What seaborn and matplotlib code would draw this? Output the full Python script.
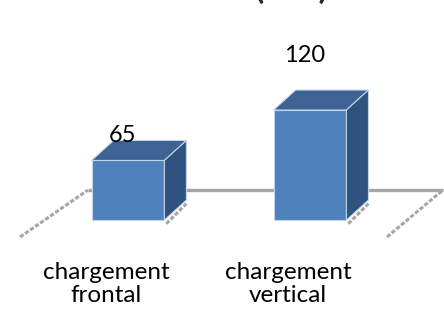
import pandas as pd
import seaborn as sns
import matplotlib.pyplot as plt
from matplotlib.patches import Polygon

categories = ["chargement\nfrontal", "chargement\nvertical"]
values = [65, 120]
title_text = "(min)"

front = "#4F81BD"
top_col = "#3D6394"
side_col = "#30527F"
edge = "#C6D4E8"
floor_col = "#A6A6A6"

df = pd.DataFrame({"cat": categories, "val": values})

sns.set_style("white")
plt.rcParams["font.family"] = ["Lato", "DejaVu Sans"]

fig = plt.figure(figsize=(4.44, 3.12), dpi=100)
ax = fig.add_axes([0, 0, 1, 1])
sns.barplot(data=df, x="cat", y="val", ax=ax, color=front, saturation=1,
            width=0.4, edgecolor=edge, linewidth=0.8, zorder=3)

# 3d depth offset (x in category units, y in value units)
dx, dy = 0.121, 21.8

for p in ax.patches:
    x0, w, h = p.get_x(), p.get_width(), p.get_height()
    ax.add_patch(Polygon([(x0, h), (x0 + w, h), (x0 + w + dx, h + dy), (x0 + dx, h + dy)],
                         closed=True, fc=top_col, ec=edge, lw=0.8, zorder=3))
    ax.add_patch(Polygon([(x0 + w, 0), (x0 + w, h), (x0 + w + dx, h + dy), (x0 + w + dx, dy)],
                         closed=True, fc=side_col, ec=edge, lw=0.8, zorder=3))
    ax.plot([x0 + w + 0.01, x0 + w + dx], [-4, dy - 4], color=floor_col, lw=2.2,
            ls=(0, (1.4, 0.6)), zorder=3.5)

# floor of the 3d chart
n = len(categories)
back_y, front_y = 32.7, -18.5
bl, br = -0.22, n - 1 + 0.73
fl, fr = -0.593, n - 1 + 0.423
ax.plot([bl, br], [back_y, back_y], color=floor_col, lw=2.4, zorder=1, solid_capstyle="butt")
ax.plot([fl, bl], [front_y, back_y], color=floor_col, lw=2.2, ls=(0, (1.4, 0.6)), zorder=1)
ax.plot([fr, br], [front_y, back_y], color=floor_col, lw=2.2, ls=(0, (1.4, 0.6)), zorder=1)

for i, v in enumerate(values):
    ax.text(i - 0.03, v * 1.6 - 12, str(v), ha="center", va="center", fontsize=17,
            color="black", zorder=5)
    ax.text(i - 0.12, -69.8, categories[i], ha="center", va="center", fontsize=17.5,
            color="black", linespacing=1.15, zorder=5)

# title sits mostly above the visible area, as in the reference
fig.text(292 / 444, 1.0 + 1 / 312, title_text, ha="center", va="baseline",
         fontsize=24, fontweight="bold")

ax.set_xlim(-0.703, 1.736)
ax.set_ylim(-100.3, 240)
ax.axis("off")

fig.savefig("out.png", dpi=100)
